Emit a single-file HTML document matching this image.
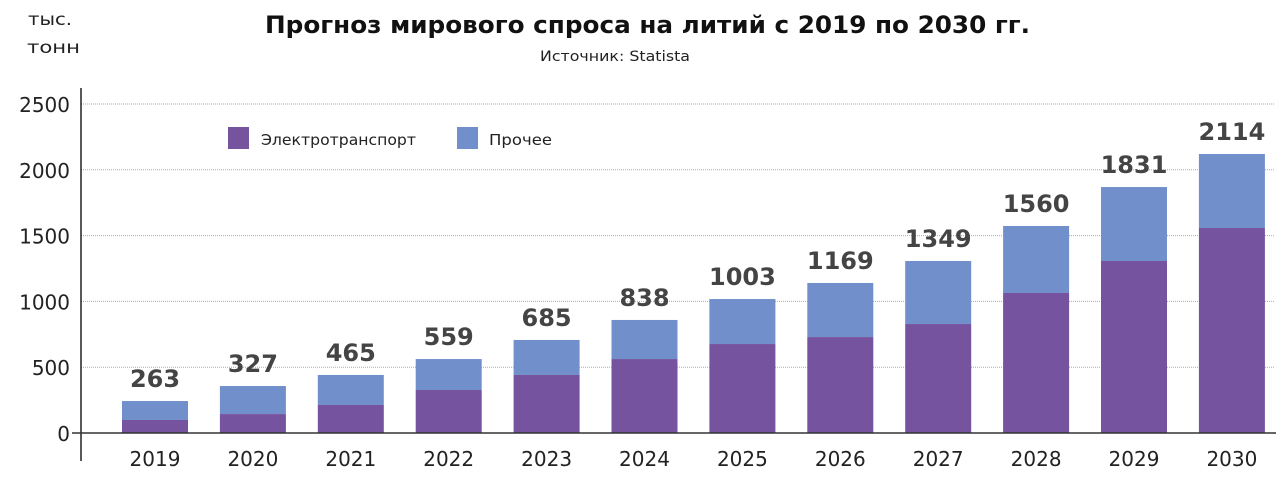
<!DOCTYPE html>
<html><head><meta charset="utf-8"><style>
body{margin:0;background:#fff;width:1286px;height:483px;overflow:hidden;font-family:"DejaVu Sans","Liberation Sans",sans-serif;}
</style></head><body>
<svg width="1286" height="483" id="c">
<text x="265" y="33" font-size="24" font-weight="bold" fill="#111" textLength="765" lengthAdjust="spacingAndGlyphs">Прогноз мирового спроса на литий с 2019 по 2030 гг.</text>
<text x="540" y="61" font-size="14" fill="#222" textLength="150" lengthAdjust="spacingAndGlyphs">Источник: Statista</text>
<text x="28" y="25" font-size="17" fill="#222" textLength="44" lengthAdjust="spacingAndGlyphs">тыс.</text>
<text x="27" y="53" font-size="17" fill="#222" textLength="53" lengthAdjust="spacingAndGlyphs">тонн</text>
<rect x="228" y="127" width="21" height="22" fill="#76539f"/>
<text x="261" y="145" font-size="15" fill="#222" textLength="155" lengthAdjust="spacingAndGlyphs">Электротранспорт</text>
<rect x="457" y="127" width="21" height="22" fill="#7190cb"/>
<text x="489" y="145" font-size="15" fill="#222" textLength="63" lengthAdjust="spacingAndGlyphs">Прочее</text>
</svg>
<script>
const years=["2019","2020","2021","2022","2023","2024","2025","2026","2027","2028","2029","2030"];
const evValues=[99,144,213,327,441,562,676,729,828,1064,1307,1558];
const totalValues=[243,357,441,562,707,859,1018,1140,1307,1573,1869,2120];
const labels=["263","327","465","559","685","838","1003","1169","1349","1560","1831","2114"];
const yTicks=[0,500,1000,1500,2000,2500];
const svg=document.getElementById('c');const NS='http://www.w3.org/2000/svg';
const y=v=>433-v*329/2500;
const xc=i=>155+i*97.9;
const bw=66;
function mk(t,a){const e=document.createElementNS(NS,t);for(const k in a)e.setAttribute(k,a[k]);svg.appendChild(e);return e;}
yTicks.forEach(v=>{
 if(v>0){const g=mk('line',{x1:81,x2:1275,y1:y(v),y2:y(v),stroke:'#aaa','stroke-width':1,'stroke-dasharray':'1,1'});
 
 }
 const t=mk('text',{x:70,y:y(v)+8,'text-anchor':'end','font-size':20,fill:'#222'});t.textContent=v;
 
 
});
years.forEach((yr,i)=>{
 const o=mk('rect',{x:xc(i)-bw/2,y:y(totalValues[i]),width:bw,height:y(evValues[i])-y(totalValues[i]),fill:'#7190cb'});
 
 
 const e=mk('rect',{x:xc(i)-bw/2,y:y(evValues[i]),width:bw,height:433-y(evValues[i]),fill:'#76539f'});
 
 
 const l=mk('text',{x:xc(i),y:y(totalValues[i])-14,'text-anchor':'middle','font-size':24,'font-weight':'bold',fill:'#444'});l.textContent=labels[i];
 
 
 const t=mk('text',{x:xc(i),y:466,'text-anchor':'middle','font-size':20,fill:'#222'});t.textContent=yr;
 
 
});
const ax=mk('line',{x1:81,x2:81,y1:88,y2:461,stroke:'#222','stroke-width':1.5});


const bl=mk('line',{x1:72,x2:1276,y1:433,y2:433,stroke:'#333','stroke-width':1.5});


</script>
</body></html>
